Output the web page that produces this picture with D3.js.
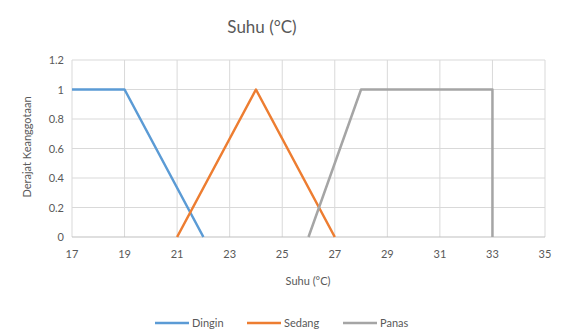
<!DOCTYPE html>
<html><head><meta charset="utf-8">
<script src="https://cdn.jsdelivr.net/npm/d3@7"></script>
<style>body{margin:0;background:#fff}svg{display:block}text{font-family:Lato,"Open Sans",sans-serif;fill:#595959}</style>
</head><body><svg id="c" width="561" height="331"></svg>
<script>
const xTicks=[17,19,21,23,25,27,29,31,33,35];
const yTicks=[0,0.2,0.4,0.6,0.8,1,1.2];
const dinginX=[17,19,22], dinginY=[1,1,0];
const sedangX=[21,24,27], sedangY=[0,1,0];
const panasX=[26,28,33,33], panasY=[0,1,1,0];
const seriesNames=["Dingin","Sedang","Panas"];
const colors=["#5B9BD5","#ED7D31","#A5A5A5"];
const series=[[dinginX,dinginY],[sedangX,sedangY],[panasX,panasY]];

const svg=d3.select("#c");
const L=72,R=545,T=60,B=237;
const x=d3.scaleLinear().domain([17,35]).range([L,R]);
const y=d3.scaleLinear().domain([0,1.2]).range([B,T]);

svg.append("g").selectAll("line").data(yTicks.filter(d=>d>0)).join("line")
 .attr("x1",L).attr("x2",R).attr("y1",d=>y(d)).attr("y2",d=>y(d)).attr("stroke","#D9D9D9");
svg.append("g").selectAll("line").data(xTicks).join("line")
 .attr("x1",d=>x(d)).attr("x2",d=>x(d)).attr("y1",T).attr("y2",B).attr("stroke","#D9D9D9");
svg.append("line").attr("x1",L).attr("x2",R).attr("y1",B).attr("y2",B).attr("stroke","#BFBFBF");

svg.append("g").selectAll("text").data(xTicks).join("text")
 .attr("x",d=>x(d)).attr("y",258).attr("text-anchor","middle").attr("font-size",11).text(d=>d);
svg.append("g").selectAll("text").data(yTicks).join("text")
 .attr("x",64).attr("y",d=>y(d)+4).attr("text-anchor","end").attr("font-size",11).text(d=>d);

const line=d3.line().x(d=>x(d[0])).y(d=>y(d[1]));
series.forEach((s,i)=>{
  const pts=s[0].map((v,j)=>[v,s[1][j]]);
  svg.append("path").attr("d",line(pts)).attr("fill","none").attr("stroke",colors[i]).attr("stroke-width",2.5).attr("stroke-linejoin","round");
});

svg.append("text").attr("x",262).attr("y",33).attr("text-anchor","middle").attr("font-size",17).text("Suhu (°C)");
svg.append("text").attr("x",308).attr("y",285).attr("text-anchor","middle").attr("font-size",11).text("Suhu (°C)");
svg.append("text").attr("transform","translate(31,147) rotate(-90)").attr("text-anchor","middle").attr("font-size",11).text("Derajat Keanggotaan");

const lx=[155,247,343];
seriesNames.forEach((n,i)=>{
  svg.append("line").attr("x1",lx[i]).attr("x2",lx[i]+34).attr("y1",323).attr("y2",323).attr("stroke",colors[i]).attr("stroke-width",2.5);
  svg.append("text").attr("x",lx[i]+37).attr("y",327).attr("font-size",11).text(n);
});
</script></body></html>
